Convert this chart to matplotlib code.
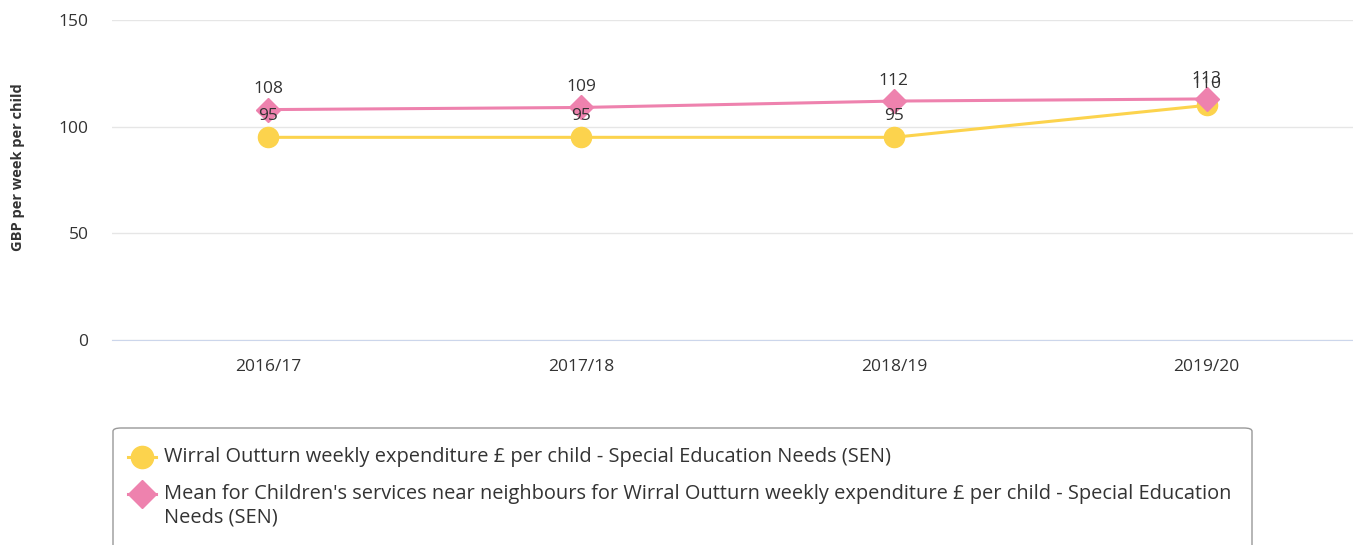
import matplotlib
matplotlib.use("Agg")
import matplotlib.pyplot as plt
from matplotlib.patches import FancyBboxPatch
from matplotlib.lines import Line2D

plt.rcParams['font.family'] = ['Open Sans', 'DejaVu Sans']

categories = ["2016/17", "2017/18", "2018/19", "2019/20"]
wirral = [95, 95, 95, 110]
neighbours = [108, 109, 112, 113]
yticks = [0, 50, 100, 150]
label_wirral = "Wirral Outturn weekly expenditure £ per child - Special Education Needs (SEN)"
label_neigh = ("Mean for Children's services near neighbours for Wirral Outturn weekly expenditure £ per child - Special Education\nNeeds (SEN)")

YELLOW = "#fcd34d"
PINK = "#ee82ae"
TXT = "#333333"

W, H = 1353, 545
fig = plt.figure(figsize=(W / 100, H / 100), dpi=100)

def fx(px):
    return px / W

def fy(py):
    return 1 - py / H

ax = fig.add_axes([fx(112), fy(340), fx(1363 - 112), fy(20) - fy(340)])
x = list(range(len(categories)))

ax.plot(x, wirral, color=YELLOW, lw=2.2, marker='o', ms=14.5, zorder=3, clip_on=False)
ax.plot(x, neighbours, color=PINK, lw=2.2, marker='D', ms=12.5, zorder=4, clip_on=False)

for xi, v in zip(x, wirral):
    ax.annotate(str(v), (xi, v), xytext=(0, 15.5), textcoords='offset points',
                ha='center', va='center', fontsize=12.5, color=TXT, zorder=5)
for xi, v in zip(x, neighbours):
    ax.annotate(str(v), (xi, v), xytext=(0, 14.5), textcoords='offset points',
                ha='center', va='center', fontsize=12.5, color=TXT, zorder=5)

ax.set_xlim(-0.5, len(categories) - 0.5)
ax.set_ylim(0, 150)
ax.set_yticks(yticks)
ax.set_xticks(x)
ax.set_xticklabels(categories)
ax.grid(axis='y', color='#e6e6e6', lw=1)
ax.set_axisbelow(True)
for s in ['top', 'right', 'left']:
    ax.spines[s].set_visible(False)
ax.spines['bottom'].set_color('#ccd6eb')
ax.tick_params(axis='both', length=0, labelsize=12.5, labelcolor=TXT)
ax.tick_params(axis='y', pad=17)
ax.tick_params(axis='x', pad=14)
ax.set_ylabel("GBP per week per child", fontsize=10.5, fontweight='bold', color=TXT)
pos = ax.get_position()
ax.yaxis.set_label_coords((fx(25) - pos.x0) / pos.width, (fy(167) - pos.y0) / pos.height)

# legend box
box = FancyBboxPatch((fx(113), fy(560)), fx(1252 - 113), fy(428) - fy(560),
                     boxstyle="round,pad=0,rounding_size=0.006", transform=fig.transFigure,
                     facecolor='white', edgecolor='#999999', lw=1, clip_on=False)
fig.add_artist(box)

fig.add_artist(Line2D([fx(128), fx(156)], [fy(457), fy(457)], transform=fig.transFigure,
                      color=YELLOW, lw=2.2))
fig.add_artist(Line2D([fx(142)], [fy(457)], transform=fig.transFigure, color=YELLOW,
                      marker='o', ms=16, lw=0))
fig.text(fx(164), fy(457), label_wirral, fontsize=14.4, color=TXT, va='center', ha='left')

fig.add_artist(Line2D([fx(128), fx(156)], [fy(494), fy(494)], transform=fig.transFigure,
                      color=PINK, lw=2.2))
fig.add_artist(Line2D([fx(142)], [fy(494)], transform=fig.transFigure, color=PINK,
                      marker='D', ms=14, lw=0))
fig.text(fx(164), fy(484), label_neigh, fontsize=14.4, color=TXT,
         va='top', ha='left', linespacing=1.2)

fig.savefig("out.png", dpi=100)
